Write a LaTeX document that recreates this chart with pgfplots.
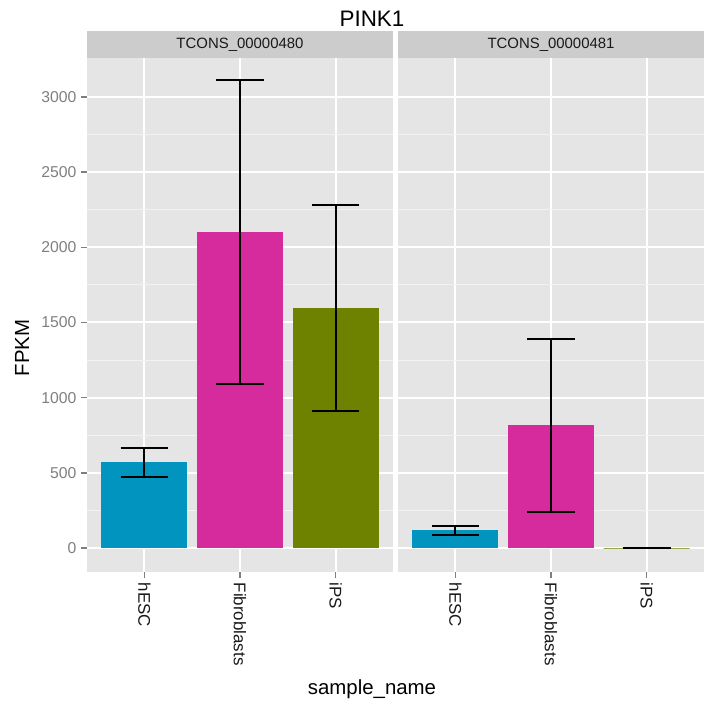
\documentclass[border=0pt]{standalone}
\usepackage{fontspec}
\setmainfont{Liberation Sans}
\usepackage{pgfplots}
\pgfplotsset{compat=1.18}
\definecolor{ggbg}{HTML}{E5E5E5}
\definecolor{ggminor}{HTML}{F2F2F2}
\definecolor{ggstrip}{HTML}{CCCCCC}
\definecolor{ggtick}{HTML}{7F7F7F}
\definecolor{chesc}{HTML}{0094BF}
\definecolor{cfib}{HTML}{D62B9C}
\definecolor{cips}{HTML}{6E8200}
\pgfplotsset{
  ggpanel/.style={
    scale only axis, width=229.5pt, height=385.5pt,
    anchor=south west,
    xmin=0.4, xmax=3.6, ymin=-159.6, ymax=3259.4,
    xtick={1,2,3}, xticklabels={hESC,Fibroblasts,iPS},
    ytick={0,500,...,3000}, minor ytick={250,750,...,2750},
    xmajorgrids, ymajorgrids, yminorgrids,
    major grid style={white, line width=1.5pt},
    minor grid style={ggminor, line width=0.75pt},
    axis background/.style={fill=ggbg},
    axis line style={draw=none},
    tick pos=left, tick align=outside,
    major tick length=4.5pt, minor tick length=0pt,
    major tick style={ggtick, line width=1pt},
    /pgf/number format/assume math mode=true,
    yticklabel style={font=\fontsize{11.8}{13}\selectfont, /pgf/number format/1000 sep={}, text=ggtick},
    xticklabel style={font=\fontsize{12.7}{14}\selectfont, rotate=-90, anchor=west, text=black!90},
  },
  ggbar/.style={ybar, bar width=0.9, bar shift=0pt, draw=none, fill=#1,
    error bars/y dir=both, error bars/y explicit,
    error bars/error bar style={black, line width=1.5pt},
    error bars/error mark options={black, line width=1.5pt, rotate=90, mark size=17.9pt}},
}
\begin{document}
\begin{tikzpicture}
\useasboundingbox (0,0) rectangle (528pt,534.75pt);
% panel 1
\begin{axis}[ggpanel, at={(65.25pt,105.75pt)}]
\addplot[ggbar=chesc] coordinates {(1,572) += (0,95) -= (0,98)};
\addplot[ggbar=cfib] coordinates {(2,2102) += (0,1011) -= (0,1011)};
\addplot[ggbar=cips] coordinates {(3,1596) += (0,686) -= (0,685)};
\end{axis}
% panel 2
\begin{axis}[ggpanel, at={(298.5pt,105.75pt)}, yticklabels={}, major y tick style={draw=none}]
\addplot[ggbar=chesc] coordinates {(1,120) += (0,28) -= (0,36)};
\addplot[ggbar=cfib] coordinates {(2,818) += (0,572) -= (0,579)};
\addplot[ggbar=cips, draw=cips, line width=0.75pt] coordinates {(3,0) += (0,0) -= (0,0)};
\end{axis}
% strips
\fill[ggstrip] (65.25pt,491.25pt) rectangle (294.75pt,511.5pt);
\fill[ggstrip] (298.5pt,491.25pt) rectangle (528pt,511.5pt);
\node[font=\fontsize{11.2}{13}\selectfont, text=black!90] at (180pt,501.4pt) {TCONS\_00000480};
\node[font=\fontsize{11.2}{13}\selectfont, text=black!90] at (413.25pt,501.4pt) {TCONS\_00000481};
% titles
\node[font=\fontsize{16.8}{19}\selectfont, anchor=base] at (279pt,514.5pt) {PINK1};
\node[font=\fontsize{15.3}{17}\selectfont, anchor=base] at (279pt,13.5pt) {sample\_name};
\node[font=\fontsize{15.3}{17}\selectfont, anchor=base, rotate=90] at (21.75pt,273.75pt) {FPKM};
\end{tikzpicture}
\end{document}
